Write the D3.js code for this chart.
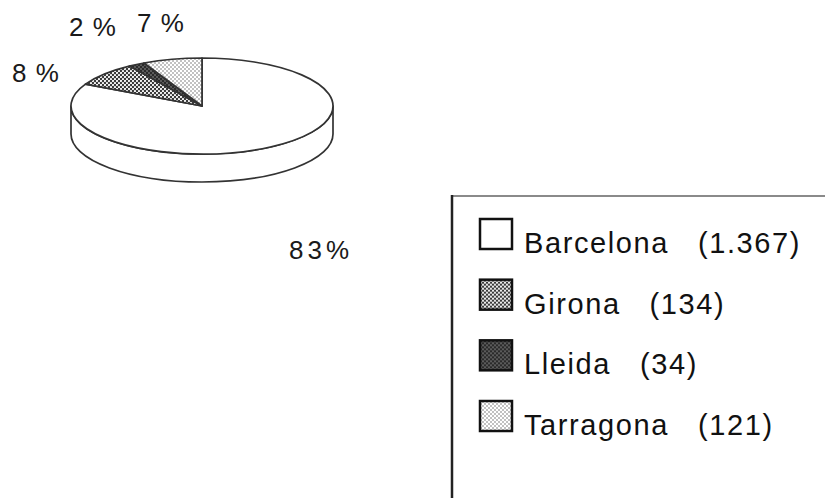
<!DOCTYPE html>
<html>
<head>
<meta charset="utf-8">
<script src="https://cdn.jsdelivr.net/npm/d3@7"></script>
<style>
  body { margin: 0; background: #fff; }
  svg { display: block; font-family: "Liberation Sans", Arial, sans-serif; }
</style>
</head>
<body>
<div id="chart"></div>
<script>
const provinces = ["Barcelona", "Girona", "Lleida", "Tarragona"];
const counts = [1367, 134, 34, 121];
const fills = ["#fff", "url(#pGirona)", "url(#pLleida)", "url(#pTarragona)"];

const width = 825,
  height = 498,
  cx = 202, cy = 106,
  rx = 131, ry = 48,
  depth = 28;

// where the percent labels sit (text centre, baseline)
const labelAt = [[321, 259], [36, 82], [93, 36], [161, 32]];

const total = d3.sum(counts);
const fmtCount = d3.formatLocale({ decimal: ",", thousands: ".", grouping: [3], currency: ["", ""] }).format(",");

const svg = d3.select("#chart")
  .append("svg")
  .attr("width", width)
  .attr("height", height);

// halftone fills like the old printout
const defs = svg.append("defs");
let p = defs.append("pattern").attr("id", "pGirona").attr("patternUnits", "userSpaceOnUse").attr("width", 4).attr("height", 4);
p.append("rect").attr("width", 4).attr("height", 4).attr("fill", "#3a3a3a");
p.append("circle").attr("cx", 1).attr("cy", 1).attr("r", 1.1).attr("fill", "#fff");
p.append("circle").attr("cx", 3).attr("cy", 3).attr("r", 1.1).attr("fill", "#fff");

p = defs.append("pattern").attr("id", "pLleida").attr("patternUnits", "userSpaceOnUse").attr("width", 4).attr("height", 4);
p.append("rect").attr("width", 4).attr("height", 4).attr("fill", "#2a2a2a");
p.append("circle").attr("cx", 1).attr("cy", 1).attr("r", 0.8).attr("fill", "#999");
p.append("circle").attr("cx", 3).attr("cy", 3).attr("r", 0.8).attr("fill", "#999");

p = defs.append("pattern").attr("id", "pTarragona").attr("patternUnits", "userSpaceOnUse").attr("width", 4).attr("height", 4);
p.append("rect").attr("width", 4).attr("height", 4).attr("fill", "#fff");
p.append("circle").attr("cx", 1).attr("cy", 1).attr("r", 0.7).attr("fill", "#555");
p.append("circle").attr("cx", 3).attr("cy", 3).attr("r", 0.7).attr("fill", "#555");

const arcs = d3.pie().sort(null).value(d => d)(counts);

const pt = (a, dy = 0) => [cx + rx * Math.sin(a), cy - ry * Math.cos(a) + dy];

function topPath(d) {
  const p0 = pt(d.startAngle), p1 = pt(d.endAngle);
  const large = d.endAngle - d.startAngle > Math.PI ? 1 : 0;
  return `M${cx},${cy}L${p0}A${rx},${ry} 0 ${large} 1 ${p1}Z`;
}

function sidePath(d) {
  const s = Math.max(d.startAngle, Math.PI / 2),
    e = Math.min(d.endAngle, 3 * Math.PI / 2);
  if (s >= e) return null;
  const m = (s + e) / 2;
  return `M${pt(s)}A${rx},${ry} 0 0 1 ${pt(m)}A${rx},${ry} 0 0 1 ${pt(e)}` +
    `L${pt(e, depth)}A${rx},${ry} 0 0 0 ${pt(m, depth)}A${rx},${ry} 0 0 0 ${pt(s, depth)}Z`;
}

const pie = svg.append("g")
  .attr("stroke", "#333")
  .attr("stroke-width", 1.7)
  .attr("stroke-linejoin", "round");

pie.selectAll("path.side")
  .data(arcs.filter(d => sidePath(d)))
  .join("path")
  .attr("class", "side")
  .attr("fill", d => fills[d.index])
  .attr("d", sidePath);

pie.selectAll("path.top")
  .data(arcs)
  .join("path")
  .attr("class", "top")
  .attr("fill", d => fills[d.index])
  .attr("d", topPath);

svg.append("g")
  .attr("font-size", 26)
  .attr("fill", "#1a1a1a")
  .attr("text-anchor", "middle")
  .selectAll("text")
  .data(arcs)
  .join("text")
  .attr("x", d => labelAt[d.index][0])
  .attr("y", d => labelAt[d.index][1])
  .attr("letter-spacing", d => d.index === 0 ? 4 : 1)
  .style("white-space", "pre")
  .text(d => {
    const v = Math.round(d.value / total * 100);
    return d.index === 0 ? `${v}%` : `${v} %`;
  });

// legend frame (only top and left edges show)
const lg = svg.append("g");
lg.append("line")
  .attr("x1", 452).attr("x2", width)
  .attr("y1", 196).attr("y2", 196)
  .attr("stroke", "#8a8a8a").attr("stroke-width", 2);
lg.append("line")
  .attr("x1", 452).attr("x2", 452)
  .attr("y1", 195).attr("y2", height)
  .attr("stroke", "#222").attr("stroke-width", 2.5);

const rowY = d3.scalePoint().domain(provinces).range([253, 435]);

const item = lg.selectAll("g.item")
  .data(provinces)
  .join("g")
  .attr("class", "item")
  .attr("transform", d => `translate(0,${rowY(d)})`);

item.append("rect")
  .attr("x", 480).attr("y", -34)
  .attr("width", 32).attr("height", 30)
  .attr("fill", (d, i) => fills[i])
  .attr("stroke", "#111")
  .attr("stroke-width", 2.5);

item.append("text")
  .attr("x", 524)
  .attr("font-size", 29)
  .attr("letter-spacing", 1.6)
  .attr("fill", "#111")
  .style("white-space", "pre")
  .text((d, i) => `${d}   (${fmtCount(counts[i])})`);
</script>
</body>
</html>
